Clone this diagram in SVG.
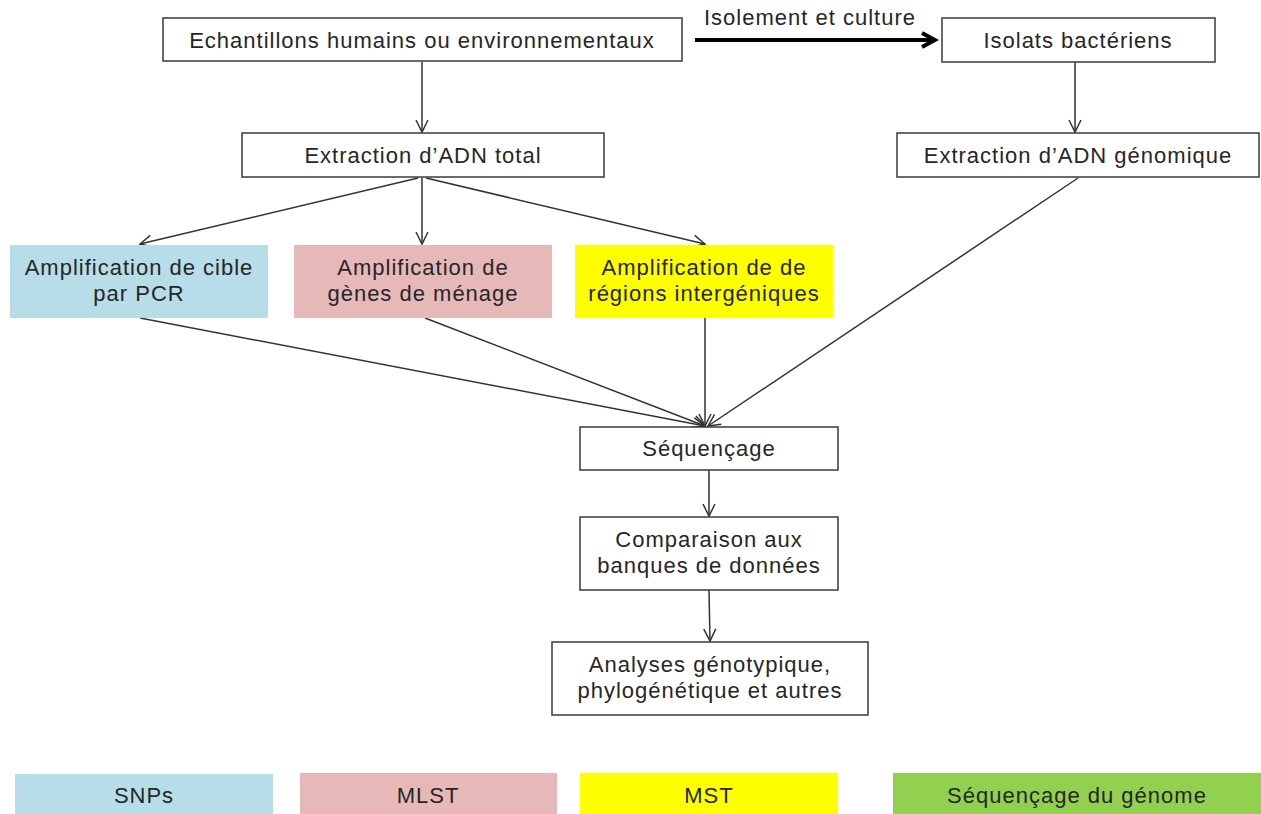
<svg xmlns="http://www.w3.org/2000/svg" width="1261" height="814" viewBox="0 0 1261 814">
<style>
.box{fill:#fff;stroke:#3a3a3a;stroke-width:1.5}
.t{font-family:"Liberation Sans",Arial,sans-serif;font-size:22px;letter-spacing:1px;fill:#262626;text-anchor:middle}
.c{stroke:#333;stroke-width:1.5;fill:none;marker-end:url(#a)}
</style>
<defs>
<marker id="a" markerWidth="16" markerHeight="16" refX="14" refY="8" orient="auto" markerUnits="userSpaceOnUse">
<path d="M2,2 L14,8 L2,14" fill="none" stroke="#333" stroke-width="1.5"/>
</marker>
<marker id="b" markerWidth="20" markerHeight="20" refX="16" refY="10" orient="auto" markerUnits="userSpaceOnUse">
<path d="M3,3 L16,10 L3,17" fill="none" stroke="#000" stroke-width="4"/>
</marker>
</defs>
<rect width="1261" height="814" fill="#fff"/>
<g id="connectors">
<line x1="695" y1="40" x2="935" y2="40" stroke="#000" stroke-width="4" marker-end="url(#b)"/>
<text class="t" x="810" y="25">Isolement et culture</text>
<line class="c" x1="422" y1="62" x2="422" y2="132"/>
<line class="c" x1="1075" y1="62" x2="1075" y2="132"/>
<line class="c" x1="418" y1="178" x2="140" y2="244"/>
<line class="c" x1="422" y1="178" x2="422" y2="244"/>
<line class="c" x1="426" y1="178" x2="705" y2="244"/>
<line class="c" x1="140" y1="318" x2="705" y2="426"/>
<line class="c" x1="425" y1="318" x2="705" y2="426"/>
<line class="c" x1="705" y1="318" x2="705" y2="426"/>
<line class="c" x1="1078" y1="178" x2="708" y2="426"/>
<line class="c" x1="709" y1="470" x2="709" y2="516"/>
<line class="c" x1="709" y1="590" x2="710" y2="641"/>
</g>
<g id="n1"><rect class="box" x="163" y="18" width="519" height="43"/><text class="t" x="422" y="48">Echantillons humains ou environnementaux</text></g>
<g id="n2"><rect class="box" x="942" y="18" width="273" height="44"/><text class="t" x="1078" y="48">Isolats bactériens</text></g>
<g id="n3"><rect class="box" x="242" y="133" width="362" height="44"/><text class="t" x="423" y="163">Extraction d’ADN total</text></g>
<g id="n4"><rect class="box" x="897" y="133" width="362" height="44"/><text class="t" x="1078" y="163">Extraction d’ADN génomique</text></g>
<g id="n5"><rect x="10" y="245" width="258" height="73" fill="#B7DDE8"/><text class="t" x="139" y="275">Amplification de cible</text><text class="t" x="139" y="301">par PCR</text></g>
<g id="n6"><rect x="294" y="245" width="258" height="73" fill="#E6B9B8"/><text class="t" x="423" y="275">Amplification de</text><text class="t" x="423" y="301">gènes de ménage</text></g>
<g id="n7"><rect x="575" y="245" width="258" height="73" fill="#FFFF00"/><text class="t" x="704" y="275">Amplification de de</text><text class="t" x="704" y="301">régions intergéniques</text></g>
<g id="n8"><rect class="box" x="580" y="427" width="258" height="43"/><text class="t" x="709" y="456">Séquençage</text></g>
<g id="n9"><rect class="box" x="580" y="517" width="258" height="73"/><text class="t" x="709" y="547">Comparaison aux</text><text class="t" x="709" y="573">banques de données</text></g>
<g id="n10"><rect class="box" x="552" y="642" width="316" height="73"/><text class="t" x="710" y="672">Analyses génotypique,</text><text class="t" x="710" y="698">phylogénétique et autres</text></g>
<g id="legend">
<g id="l1"><rect x="15" y="774" width="258" height="40" fill="#B7DDE8"/><text class="t" x="144" y="803">SNPs</text></g>
<g id="l2"><rect x="300" y="773" width="257" height="41" fill="#E6B9B8"/><text class="t" x="428" y="803">MLST</text></g>
<g id="l3"><rect x="580" y="773" width="258" height="41" fill="#FFFF00"/><text class="t" x="709" y="803">MST</text></g>
<g id="l4"><rect x="893" y="773" width="368" height="41" fill="#92D050"/><text class="t" x="1077" y="803">Séquençage du génome</text></g>
</g>
</svg>
